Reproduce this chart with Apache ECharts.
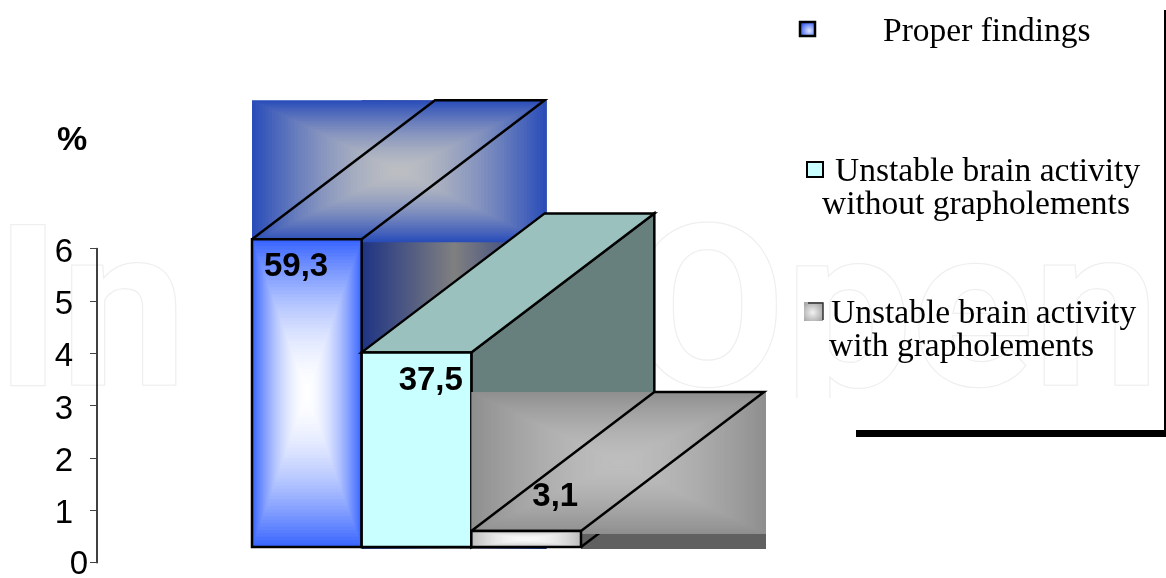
<!DOCTYPE html>
<html>
<head>
<meta charset="utf-8">
<style>
  html, body { margin: 0; padding: 0; background: #fff; }
  #chart { width: 1166px; height: 578px; }
</style>
<script src="https://cdn.jsdelivr.net/npm/echarts@6/dist/echarts.min.js"></script>
</head>
<body>
<div id="chart"></div>
<script>
const categories = ['Proper findings', 'Unstable brain activity without grapholements', 'Unstable brain activity with grapholements']
const percentValues = [59.3, 37.5, 3.1]
const tickValues = [0, 10, 20, 30, 40, 50, 60]
const tickLabels = ['0', '1', '2', '3', '4', '5', '6']

// oblique depth of the fake 3D bars
const depthX = 183
const depthY = 139
const labelOffset = [[12, 28], [37, 29], [61, -34]]

const chart = echarts.init(document.getElementById('chart'), null, { renderer: 'canvas' })

const mix = (a, b, t) => {
  const c = a.map((v, i) => Math.round(v + (b[i] - v) * t))
  return `rgb(${c[0]},${c[1]},${c[2]})`
}

// rectangular "path" gradient, as nested rects shrinking to the centre
const boxGradient = (x, y, w, h, outer, inner, pow) => {
  const steps = 45
  const out = []
  for (let i = 0; i < steps; i++) {
    const t = i / steps
    out.push({
      type: 'rect',
      shape: { x: x + t * w / 2, y: y + t * h / 2, width: w * (1 - t), height: h * (1 - t) },
      style: { fill: mix(outer, inner, 1 - Math.pow(1 - t, pow)) }
    })
  }
  return out
}

const line = (points, width) => ({
  type: 'polyline',
  shape: { points },
  style: { stroke: '#000', lineWidth: width, fill: null, lineJoin: 'miter' }
})

const poly = (points, fill, width) => ({
  type: 'polygon',
  shape: { points },
  style: { fill, stroke: '#000', lineWidth: width }
})

const renderBar = (params, api) => {
  const i = params.dataIndex
  const value = api.value(1)
  const base = api.coord([i, 0])
  const top = api.coord([i, value])
  const bw = api.size([1, 0])[0]
  const x0 = base[0] - bw / 2
  const x1 = x0 + bw
  const yb = base[1]
  const yt = top[1]
  const backY = yt - depthY
  const topFace = [[x0, yt], [x0 + depthX, backY], [x1 + depthX, backY], [x1, yt]]
  const sideFace = [[x1, yt], [x1 + depthX, backY], [x1 + depthX, backY + (yb - yt)], [x1, yb]]
  const bboxW = bw + depthX + 2
  const bboxH = depthY + 3
  let children = []

  if (i === 0) {
    children.push({
      type: 'rect',
      shape: { x: x1, y: backY, width: depthX + 2, height: yb - backY + 2 },
      style: {
        fill: new echarts.graphic.LinearGradient(0, 0, 1, 0, [
          { offset: 0, color: '#1e3384' },
          { offset: 0.5, color: '#808080' },
          { offset: 1, color: '#1e3384' }
        ])
      }
    })
    children = children.concat(boxGradient(x0, backY, bboxW, bboxH, [42, 77, 185], [188, 190, 194], 1.6))
    children.push(line(topFace.concat([topFace[0]]), 2.5))
    children = children.concat(boxGradient(x0, yt, bw, yb - yt, [58, 102, 255], [255, 255, 255], 1.8))
    children.push(poly([[x0, yt], [x1, yt], [x1, yb], [x0, yb]], 'transparent', 2.5))
  } else if (i === 1) {
    children.push(poly(sideFace, '#67807d', 2.5))
    children.push(poly(topFace, '#9bc1be', 2.5))
    children.push(poly([[x0, yt], [x1, yt], [x1, yb], [x0, yb]], '#c9ffff', 2.5))
  } else {
    children.push({
      type: 'rect',
      shape: { x: x1, y: backY, width: depthX + 2, height: yb - backY + 2 },
      style: { fill: '#606060' }
    })
    children.push(line([[x1, yb], [x1 + depthX, yb - depthY]], 2.5))
    children = children.concat(boxGradient(x0, backY, bboxW, bboxH, [143, 143, 143], [190, 190, 190], 1.6))
    children.push(line(topFace.concat([topFace[0]]), 2.5))
    children = children.concat(boxGradient(x0, yt, bw, yb - yt, [190, 190, 190], [248, 248, 248], 2))
    children.push(poly([[x0, yt], [x1, yt], [x1, yb], [x0, yb]], 'transparent', 2.5))
  }

  children.push({
    type: 'text',
    style: {
      text: String(value).replace('.', ','),
      x: x0 + labelOffset[i][0],
      y: yt + labelOffset[i][1],
      font: 'bold 33px "Liberation Sans", Arial, sans-serif',
      fill: '#000',
      textAlign: 'left',
      textVerticalAlign: 'middle'
    }
  })
  return { type: 'group', children }
}

const legendFont = '33.5px "Liberation Serif", serif'
const legendText = (text, x, y) => ({
  type: 'text',
  z: 5,
  style: { text, x, y, font: legendFont, fill: '#000', textAlign: 'left', textVerticalAlign: 'middle' }
})

const watermark = (text, x) => ({
  type: 'text',
  z: 0,
  silent: true,
  style: { text, x, y: 441, font: 'bold 225px Roboto, sans-serif', fill: '#fff', stroke: '#efefef', lineWidth: 2.5, textVerticalAlign: 'bottom' }
})

const option = {
  animation: false,
  backgroundColor: '#fff',
  grid: [
    { left: 97, top: 248.5, width: 1, height: 314.2, outerBoundsMode: 'none' },
    { left: 252, top: 235.6, width: 329, height: 311.4, outerBoundsMode: 'none' }
  ],
  xAxis: [
    { gridIndex: 0, type: 'category', show: false, data: [''] },
    { gridIndex: 1, type: 'category', show: false, data: categories }
  ],
  yAxis: [
    {
      gridIndex: 0,
      type: 'value',
      min: 0,
      max: 60,
      interval: 10,
      z: 10,
      splitLine: { show: false },
      axisLine: { show: true, lineStyle: { color: '#000', width: 1.5 } },
      axisTick: { show: true, length: 7, lineStyle: { color: '#444', width: 1 } },
      axisLabel: {
        margin: 9,
        fontFamily: '"Liberation Sans", Arial, sans-serif',
        fontSize: 33,
        color: '#000',
        formatter: v => {
          const label = tickLabels[tickValues.indexOf(v)]
          return v === 0 ? `{z|${label}}` : `{s|${label}}`
        },
        rich: {
          s: { fontSize: 33, color: '#000', padding: [8, 15, 0, 0] },
          z: { fontSize: 33, color: '#000', padding: [4, 0, 0, 0] }
        }
      }
    },
    { gridIndex: 1, type: 'value', show: false, min: 0, max: 60 }
  ],
  series: [{
    type: 'custom',
    xAxisIndex: 1,
    yAxisIndex: 1,
    clip: false,
    renderItem: renderBar,
    data: percentValues.map((v, i) => [i, v])
  }],
  graphic: [
    // faint publisher watermark
    watermark('In', -5),
    watermark('Open', 630),
    { type: 'rect', z: 1, silent: true, shape: { x: 0, y: 398, width: 1166, height: 180 }, style: { fill: '#fff' } },

    { type: 'text', z: 5, style: { text: '%', x: 72, y: 141, font: 'bold 34px "Liberation Sans", Arial, sans-serif', fill: '#000', textAlign: 'center', textVerticalAlign: 'middle' } },

    // legend
    { type: 'rect', z: 5, shape: { x: 1164, y: 10, width: 2, height: 425 }, style: { fill: '#000' } },
    { type: 'rect', z: 5, shape: { x: 856, y: 430, width: 310, height: 7 }, style: { fill: '#000' } },

    { type: 'rect', z: 5, shape: { x: 800, y: 22, width: 15, height: 14 }, style: { fill: new echarts.graphic.RadialGradient(0.6, 0.6, 0.6, [{ offset: 0, color: '#dfe5ff' }, { offset: 1, color: '#2f58f0' }]), stroke: '#000', lineWidth: 2.5 } },
    legendText('Proper findings', 883, 32),

    { type: 'rect', z: 5, shape: { x: 807, y: 162, width: 16, height: 15 }, style: { fill: '#c9ffff', stroke: '#000', lineWidth: 2 } },
    legendText('Unstable brain activity', 835, 172),
    legendText('without grapholements', 822, 205),

    { type: 'rect', z: 5, shape: { x: 804, y: 302, width: 19, height: 19 }, style: { fill: new echarts.graphic.RadialGradient(0.45, 0.55, 0.6, [{ offset: 0, color: '#f2f2f2' }, { offset: 1, color: '#a8a8a8' }]) } },
    { type: 'polyline', z: 5, shape: { points: [[808, 303], [823, 303], [823, 320]] }, style: { stroke: '#333', lineWidth: 1.5, fill: null } },
    legendText('Unstable brain activity', 831, 314),
    legendText('with grapholements', 829, 347)
  ]
}

chart.setOption(option)
</script>
</body>
</html>
